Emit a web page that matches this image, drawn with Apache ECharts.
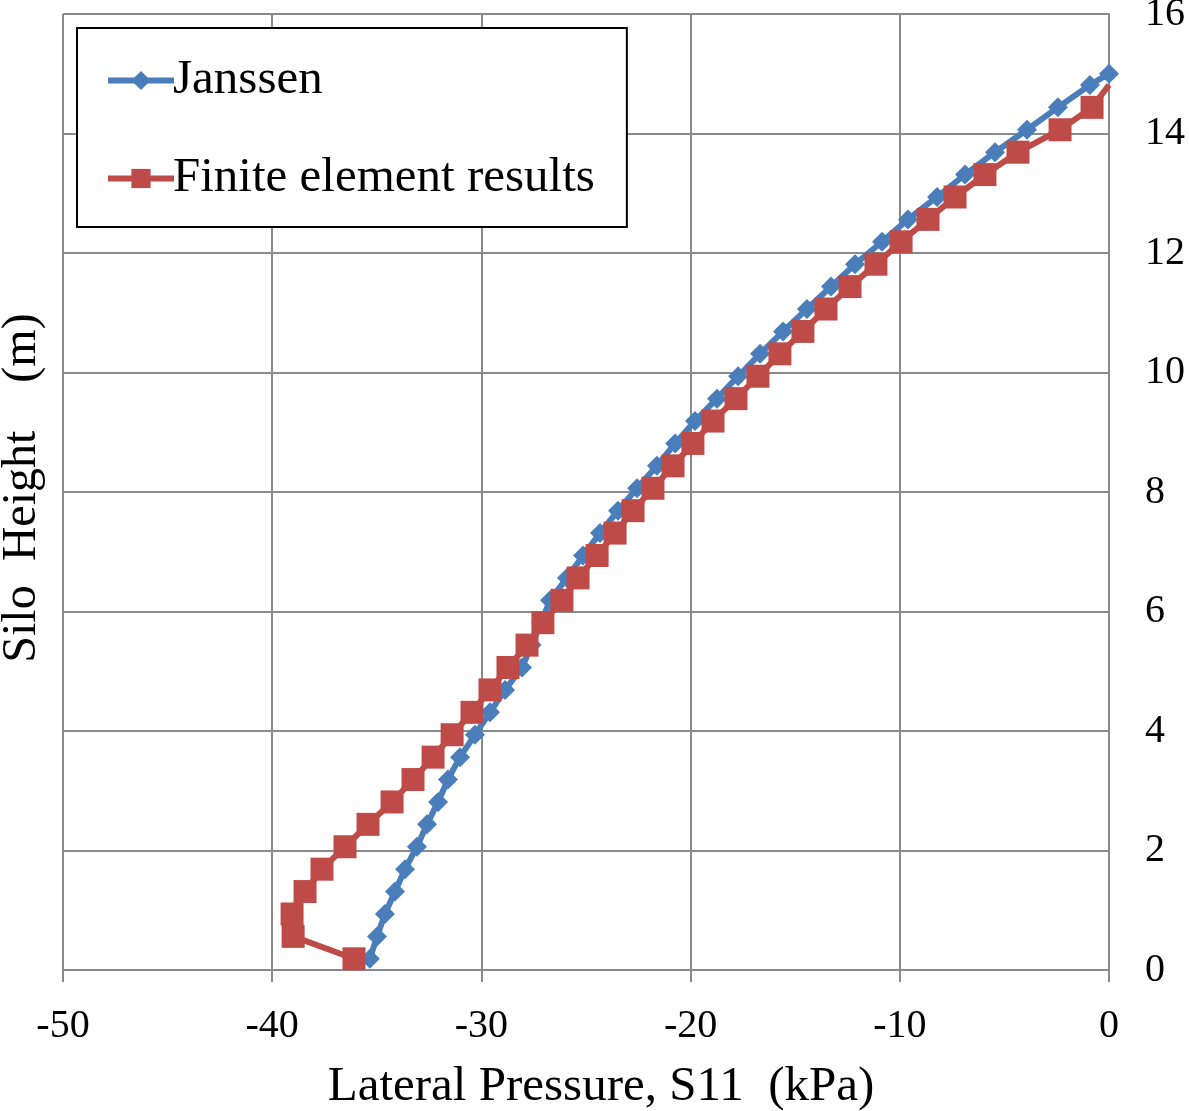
<!DOCTYPE html>
<html>
<head>
<meta charset="utf-8">
<script src="https://cdn.jsdelivr.net/npm/echarts@6/dist/echarts.min.js"></script>
<style>
  html, body { margin: 0; padding: 0; background: #fff; }
  #chart { width: 1189px; height: 1111px; }
</style>
</head>
<body>
<div id="chart"></div>
<script>
// silo height (m) at each node
var feHeights = [0.1875, 0.5625, 0.9375, 1.3125, 1.6875, 2.0625, 2.4375, 2.8125, 3.1875, 3.5625,
  3.9375, 4.3125, 4.6875, 5.0625, 5.4375, 5.8125, 6.1875, 6.5625, 6.9375, 7.3125,
  7.6875, 8.0625, 8.4375, 8.8125, 9.1875, 9.5625, 9.9375, 10.3125, 10.6875, 11.0625,
  11.4375, 11.8125, 12.1875, 12.5625, 12.9375, 13.3125, 13.6875, 14.0625, 14.4375, 14.8125];
var janssenHeights = feHeights.concat([15]);

// lateral pressure S11 (kPa)
var janssenP = [-35.33, -34.99, -34.61, -34.13, -33.65, -33.08, -32.60, -32.07, -31.60, -31.02,
  -30.31, -29.59, -28.87, -28.06, -27.60, -27.15, -26.72, -25.91, -25.14, -24.33,
  -23.47, -22.56, -21.61, -20.74, -19.79, -18.74, -17.73, -16.68, -15.58, -14.44,
  -13.29, -12.14, -10.85, -9.61, -8.22, -6.88, -5.45, -3.92, -2.44, -0.91, 0];
var feP = [-36.09, -39.00, -39.05, -38.43, -37.62, -36.52, -35.42, -34.27, -33.27, -32.31,
  -31.40, -30.45, -29.59, -28.73, -27.82, -27.06, -26.15, -25.38, -24.47, -23.61,
  -22.75, -21.80, -20.84, -19.89, -18.93, -17.83, -16.78, -15.73, -14.63, -13.53,
  -12.38, -11.14, -9.94, -8.65, -7.36, -5.93, -4.35, -2.34, -0.81, 0];

var xTicks = [-50, -40, -30, -20, -10, 0];
var yTicks = [0, 2, 4, 6, 8, 10, 12, 14, 16];

var FONT = 'Liberation Serif';
var GRID = '#8a8a8a';

var janssenData = janssenP.map(function (p, i) { return [p, janssenHeights[i]]; });
var feData = feP.map(function (p, i) {
  // last FE node has no visible marker
  if (i === feP.length - 1) return { value: [p, feHeights[i]], symbolSize: 0 };
  return [p, feHeights[i]];
});

var chart = echarts.init(document.getElementById('chart'));
var option = {
  animation: false,
  backgroundColor: '#fff',
  grid: { left: 63, right: 80, top: 14, bottom: 141, outerBoundsMode: 'none' },
  legend: {
    orient: 'vertical',
    left: 77,
    top: 28,
    padding: [28, 32, 24, 28],
    itemGap: 49,
    itemWidth: 66,
    itemHeight: 24,
    borderColor: '#000',
    borderWidth: 2,
    backgroundColor: '#fff',
    lineStyle: { width: 6 },
    textStyle: { fontFamily: FONT, fontSize: 49, color: '#000', padding: [0, 0, 0, -6] },
    data: ['Janssen', 'Finite element results']
  },
  xAxis: {
    type: 'value',
    min: xTicks[0],
    max: xTicks[xTicks.length - 1],
    interval: 10,
    name: 'Lateral Pressure, S11  (kPa)',
    nameLocation: 'middle',
    nameGap: 93,
    nameTextStyle: { fontFamily: FONT, fontSize: 49, color: '#000', padding: [0, 0, 0, 30] },
    axisLine: { show: true, onZero: false, lineStyle: { color: GRID, width: 2 } },
    axisTick: { show: true, length: 12, lineStyle: { color: GRID, width: 2 } },
    axisLabel: { fontFamily: FONT, fontSize: 40, color: '#000', margin: 36 },
    splitLine: { show: true, lineStyle: { color: GRID, width: 2 } }
  },
  yAxis: {
    type: 'value',
    position: 'right',
    min: yTicks[0],
    max: yTicks[yTicks.length - 1],
    interval: 2,
    axisLine: { show: true, lineStyle: { color: GRID, width: 2 } },
    axisTick: { show: false },
    axisLabel: { fontFamily: FONT, fontSize: 40, color: '#000', margin: 36 },
    splitLine: { show: true, lineStyle: { color: GRID, width: 2 } }
  },
  graphic: [{
    type: 'text',
    x: 22,
    y: 488,
    rotation: Math.PI / 2,
    style: {
      text: 'Silo  Height    (m)', fontFamily: FONT, fontSize: 48, fill: '#000',
      align: 'center', verticalAlign: 'middle'
    }
  }],
  series: [{
    name: 'Janssen',
    type: 'line',
    data: janssenData,
    symbol: 'diamond',
    symbolSize: 20,
    showAllSymbol: true,
    lineStyle: { color: '#4a7ebb', width: 6 },
    itemStyle: { color: '#4a7ebb' }
  }, {
    name: 'Finite element results',
    type: 'line',
    data: feData,
    symbol: 'rect',
    symbolSize: 23,
    showAllSymbol: true,
    lineStyle: { color: '#be4b48', width: 6 },
    itemStyle: { color: '#be4b48' }
  }]
};
chart.setOption(option);
</script>
</body>
</html>
